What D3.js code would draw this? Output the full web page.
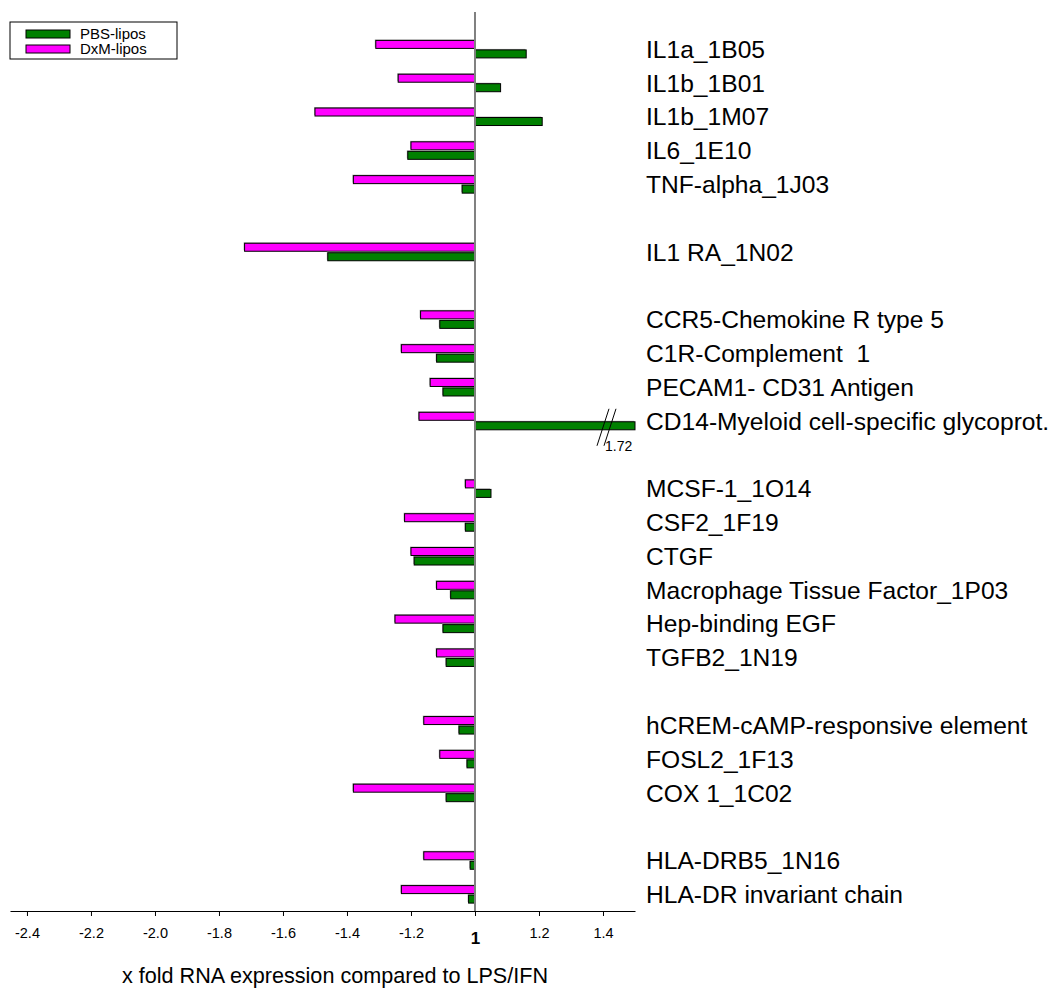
<!DOCTYPE html>
<html>
<head>
<meta charset="utf-8">
<script src="https://cdn.jsdelivr.net/npm/d3@7"></script>
<style>
  body { margin: 0; background: #fff; }
  svg { font-family: Arial, "Liberation Sans", sans-serif; }
</style>
</head>
<body>
<div id="chart"></div>
<script>
// gene rows, null = empty spacer row
const categories = [
  "IL1a_1B05", "IL1b_1B01", "IL1b_1M07", "IL6_1E10", "TNF-alpha_1J03", null,
  "IL1 RA_1N02", null,
  "CCR5-Chemokine R type 5", "C1R-Complement  1", "PECAM1- CD31 Antigen",
  "CD14-Myeloid cell-specific glycoprot.", null,
  "MCSF-1_1O14", "CSF2_1F19", "CTGF", "Macrophage Tissue Factor_1P03",
  "Hep-binding EGF", "TGFB2_1N19", null,
  "hCREM-cAMP-responsive element", "FOSL2_1F13", "COX 1_1C02", null,
  "HLA-DRB5_1N16", "HLA-DR invariant chain"
];

// x fold values (negative = fold decrease)
const pbsLipos = [
  1.16, 1.08, 1.21, -1.21, -1.04, null,
  -1.46, null,
  -1.11, -1.12, -1.10, 1.72, null,
  1.05, -1.03, -1.19, -1.076, -1.10, -1.09, null,
  -1.05, -1.025, -1.09, null,
  -1.015, -1.02
];
const dxmLipos = [
  -1.31, -1.24, -1.50, -1.20, -1.38, null,
  -1.72, null,
  -1.17, -1.23, -1.14, -1.175, null,
  -1.03, -1.22, -1.20, -1.12, -1.25, -1.12, null,
  -1.16, -1.11, -1.38, null,
  -1.16, -1.23
];

const tickFolds = [-2.4, -2.2, -2.0, -1.8, -1.6, -1.4, -1.2, 1, 1.2, 1.4];
const tickLabels = ["-2.4", "-2.2", "-2.0", "-1.8", "-1.6", "-1.4", "-1.2", "1", "1.2", "1.4"];

const seriesNames = ["PBS-lipos", "DxM-lipos"];
const COLORS = { pbs: "#008000", dxm: "#ff00ff" };

const WIDTH = 1055;
const HEIGHT = 993;
const AXIS_Y = 911;
const BAR_H = 8;

// fold -> distance from the "1" line
function foldOffset(v) {
  return v > 0 ? v - 1 : v + 1;
}

const svg = d3.select("#chart").append("svg")
  .attr("width", WIDTH)
  .attr("height", HEIGHT);

const x = d3.scaleLinear()
  .domain([-1.453, 0.5])
  .range([10, 635])
  .clamp(true);

const y = d3.scaleBand()
  .domain(d3.range(categories.length))
  .range([32, AXIS_Y])
  .padding(0);

const rowCenter = i => y(i) + y.bandwidth() / 2;

function drawBars(values, color, dy, cls) {
  const rows = values.map((v, i) => ({ i, v })).filter(d => d.v != null);
  const g = svg.append("g").attr("class", cls);
  const x0 = x(0);
  // faint shadow
  g.selectAll("rect.shadow")
    .data(rows)
    .enter()
    .append("rect")
    .attr("class", "shadow")
    .attr("x", d => Math.min(x0, x(foldOffset(d.v))) - 1)
    .attr("y", d => rowCenter(d.i) + dy - 1)
    .attr("width", d => Math.abs(x(foldOffset(d.v)) - x0))
    .attr("height", BAR_H)
    .attr("fill", "#b0b0b0");
  g.selectAll("rect.bar")
    .data(rows)
    .enter()
    .append("rect")
    .attr("class", "bar")
    .attr("x", d => Math.min(x0, x(foldOffset(d.v))))
    .attr("y", d => rowCenter(d.i) + dy)
    .attr("width", d => Math.abs(x(foldOffset(d.v)) - x0))
    .attr("height", BAR_H)
    .attr("fill", color)
    .attr("stroke", "#000")
    .attr("stroke-width", 1);
  return rows;
}

drawBars(dxmLipos, COLORS.dxm, -BAR_H - 0.5, "dxm");
const pbsRows = drawBars(pbsLipos, COLORS.pbs, 1, "pbs");

// axis break on bars beyond the domain
const broken = pbsRows.filter(d => foldOffset(d.v) > x.domain()[1]);
broken.forEach(d => {
  const cy = rowCenter(d.i) + 1 + BAR_H / 2;
  const bx = x(foldOffset(1.4));
  [0, 7].forEach(off => {
    svg.append("line")
      .attr("x1", bx + off - 6).attr("y1", cy + 20)
      .attr("x2", bx + off + 6).attr("y2", cy - 17)
      .attr("stroke", "#000")
      .attr("stroke-width", 1);
  });
  svg.append("text")
    .attr("x", bx + 2)
    .attr("y", cy + 25)
    .attr("font-size", 14)
    .attr("fill", "#000")
    .text(d3.format(".2f")(d.v));
});

// zero ("1") line
svg.append("line")
  .attr("x1", x(0)).attr("x2", x(0))
  .attr("y1", 12).attr("y2", AXIS_Y)
  .attr("stroke", "#808080")
  .attr("stroke-width", 2);

// x axis
const xAxis = svg.append("g")
  .attr("transform", `translate(0,${AXIS_Y})`)
  .call(d3.axisBottom(x)
    .tickValues(tickFolds.map(foldOffset))
    .tickSize(5)
    .tickSizeOuter(0)
    .tickPadding(12)
    .tickFormat((d, i) => tickLabels[i]));

xAxis.select(".domain").attr("stroke", "#000").attr("stroke-width", 1.2);
xAxis.selectAll(".tick line").attr("stroke", "#000");
xAxis.selectAll(".tick text")
  .attr("font-family", "Arial, 'Liberation Sans', sans-serif")
  .attr("font-size", 14.5)
  .attr("fill", "#000");
xAxis.selectAll(".tick text")
  .filter((d, i) => tickLabels[i] === "1")
  .attr("font-weight", "bold")
  .attr("font-size", 17)
  .attr("dy", "0.95em");

// category labels
svg.append("g")
  .selectAll("text")
  .data(categories.map((c, i) => ({ c, i })).filter(d => d.c))
  .enter()
  .append("text")
  .attr("x", 646)
  .attr("y", d => rowCenter(d.i))
  .attr("dy", "0.36em")
  .attr("font-size", 24.6)
  .attr("fill", "#000")
  .style("white-space", "pre")
  .text(d => d.c);

// axis title
svg.append("text")
  .attr("x", 335)
  .attr("y", 983)
  .attr("text-anchor", "middle")
  .attr("font-size", 21.6)
  .attr("fill", "#000")
  .text("x fold RNA expression compared to LPS/IFN");

// legend
const legend = svg.append("g").attr("transform", "translate(10,22)");
legend.append("rect")
  .attr("width", 167).attr("height", 37)
  .attr("fill", "#fff")
  .attr("stroke", "#000")
  .attr("stroke-width", 1);
const legendColors = [COLORS.pbs, COLORS.dxm];
seriesNames.forEach((name, i) => {
  const ly = 12 + i * 15;
  legend.append("rect")
    .attr("x", 16).attr("y", ly - 4)
    .attr("width", 44).attr("height", 8)
    .attr("fill", legendColors[i])
    .attr("stroke", "#000");
  legend.append("text")
    .attr("x", 70).attr("y", ly)
    .attr("dy", "0.36em")
    .attr("font-size", 15)
    .attr("fill", "#000")
    .text(name);
});
</script>
</body>
</html>
